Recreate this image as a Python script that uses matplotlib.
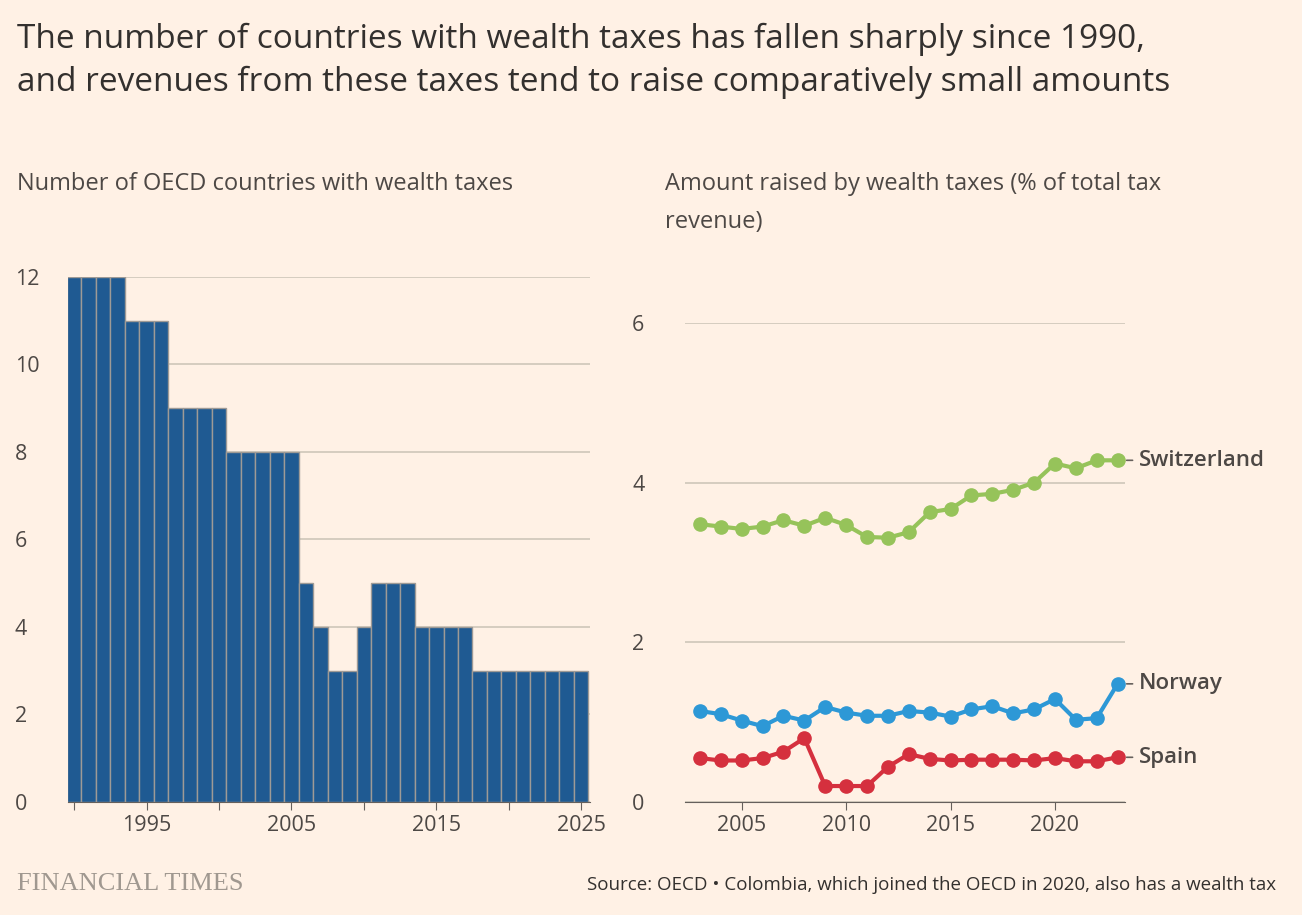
import matplotlib.pyplot as plt

plt.rcParams['font.family'] = ['Open Sans', 'DejaVu Sans']

BG = '#FFF1E5'
TXT = '#33302E'
GRID = '#CEC6B9'

bar_years = list(range(1990, 2026))
bar_counts = [12, 12, 12, 12, 11, 11, 11, 9, 9, 9, 9, 8, 8, 8, 8, 8,
              5, 4, 3, 3, 4, 5, 5, 5, 4, 4, 4, 4, 3, 3, 3, 3, 3, 3, 3, 3]

line_years = list(range(2003, 2024))
switzerland = [3.48, 3.45, 3.42, 3.45, 3.53, 3.46, 3.56, 3.47, 3.32, 3.31, 3.38,
               3.63, 3.67, 3.84, 3.86, 3.91, 4.00, 4.24, 4.18, 4.28, 4.28]
norway = [1.14, 1.10, 1.02, 0.95, 1.08, 1.02, 1.19, 1.12, 1.08, 1.08, 1.14,
          1.12, 1.07, 1.16, 1.20, 1.11, 1.16, 1.29, 1.03, 1.05, 1.48]
spain = [0.55, 0.52, 0.52, 0.55, 0.63, 0.80, 0.20, 0.20, 0.20, 0.44, 0.60,
         0.54, 0.52, 0.53, 0.53, 0.53, 0.52, 0.55, 0.51, 0.51, 0.56]

fig = plt.figure(figsize=(13.02, 9.15), dpi=100, facecolor=BG)

fig.text(0.013, 0.975, 'The number of countries with wealth taxes has fallen sharply since 1990,\n'
         'and revenues from these taxes tend to raise comparatively small amounts',
         fontsize=24, color=TXT, va='top', linespacing=1.4)
fig.text(0.013, 0.812, 'Number of OECD countries with wealth taxes', fontsize=17, color='#4d4845',
         va='top')
fig.text(0.511, 0.812, 'Amount raised by wealth taxes (% of total tax\nrevenue)', fontsize=17,
         color='#4d4845', va='top', linespacing=1.75)
fig.text(0.013, 0.027, 'FINANCIAL TIMES', fontsize=19, color='#A09890', family='Liberation Serif')
fig.text(0.98, 0.027, 'Source: OECD \u2022 Colombia, which joined the OECD in 2020, also has a wealth tax',
         fontsize=13.5, color=TXT, ha='right')


def style(ax):
    ax.set_facecolor(BG)
    for s in ['top', 'right', 'left']:
        ax.spines[s].set_visible(False)
    ax.spines['bottom'].set_color('#66605C')
    ax.grid(axis='y', color=GRID, linewidth=1.2)
    ax.set_axisbelow(True)
    ax.tick_params(axis='y', length=0, labelsize=15.5, colors='#4d4845', pad=0)
    ax.tick_params(axis='x', length=6, color='#66605C', labelsize=15.5, colors='#4d4845')
    for lab in ax.get_yticklabels():
        lab.set_horizontalalignment('left')


# left: bars
ax1 = fig.add_axes([0.052, 0.1235, 0.401, 0.574])
ax1.bar(bar_years, bar_counts, width=1.0, color='#1F5A92', edgecolor='#9E9A96', linewidth=1)
ax1.set_ylim(0, 12)
ax1.set_xlim(1989.55, 2025.6)
ax1.set_yticks(range(0, 13, 2))
ax1.set_xticks(range(1990, 2026, 5))
ax1.set_xticklabels(['' if y % 10 == 0 else str(y) for y in range(1990, 2026, 5)])
style(ax1)
ax1.tick_params(axis='y', pad=38)

# right: lines
ax2 = fig.add_axes([0.526, 0.1235, 0.338, 0.5235])
for vals, col, name in [(switzerland, '#96C35A', 'Switzerland'),
                        (norway, '#2D98D6', 'Norway'),
                        (spain, '#D5303E', 'Spain')]:
    ax2.plot(line_years, vals, color=col, lw=3, marker='o', ms=9.5, clip_on=False)
    ax2.annotate(name, (line_years[-1], vals[-1]), xytext=(15, 0), textcoords='offset points',
                 va='center', fontsize=16, fontweight='semibold', color='#4d4845',
                 annotation_clip=False)
    ax2.annotate('', (line_years[-1] + 0.3, vals[-1]), xytext=(line_years[-1] + 0.85, vals[-1]),
                 arrowprops=dict(arrowstyle='-', color='#66605C', lw=1.2), annotation_clip=False)
ax2.set_ylim(0, 6)
ax2.set_xlim(2002.28, 2023.35)
ax2.set_yticks(range(0, 7, 2))
ax2.set_xticks(range(2005, 2021, 5))
style(ax2)
ax2.tick_params(axis='y', pad=38)

fig.savefig('out.png', dpi=100, facecolor=BG)
